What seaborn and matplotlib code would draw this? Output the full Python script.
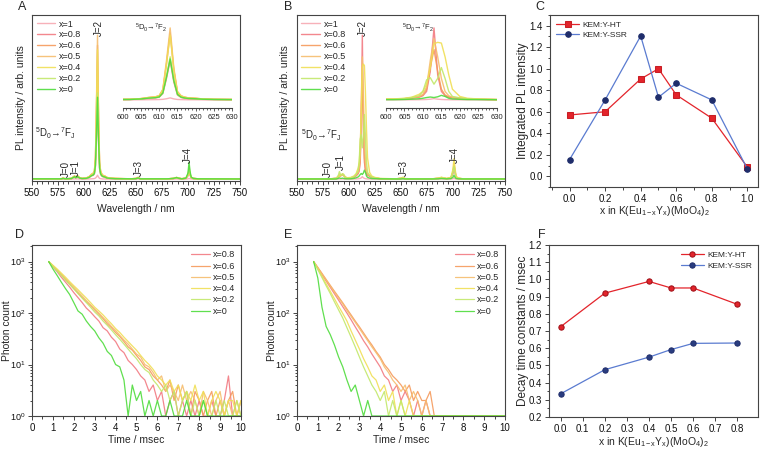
import seaborn as sns
import matplotlib.pyplot as plt
from matplotlib.ticker import MultipleLocator, LogLocator, NullFormatter

# ---------------- data ----------------
labels7 = ['x=1', 'x=0.8', 'x=0.6', 'x=0.5', 'x=0.4', 'x=0.2', 'x=0']
colors7 = ['#f7a9b2', '#f27a82', '#f59a5c', '#f6bd6e', '#f0df55', '#c2e86a', '#4fdc3c']

# emission spectra, normalised (wavelength in nm)
wl = [550, 578, 580, 582, 588, 590, 591, 592, 593, 594, 595, 596, 598, 602, 605, 607,
      609, 610, 611, 612, 613, 614, 615, 616, 617, 618, 620, 622, 625, 630, 645, 650,
      652, 654, 680, 686, 689, 691, 694, 698, 700, 701, 702, 703, 705, 710, 750]

# A: KEM:Y-HT
A_x1 = [0.003, 0.003, 0.003, 0.003, 0.003, 0.004, 0.005, 0.004, 0.004, 0.005,
        0.004, 0.003, 0.003, 0.003, 0.004, 0.005, 0.006, 0.007, 0.01, 0.018,
        0.03, 0.016, 0.008, 0.006, 0.005, 0.004, 0.004, 0.003, 0.003, 0.003,
        0.003, 0.003, 0.004, 0.003, 0.003, 0.003, 0.004, 0.003, 0.003, 0.003,
        0.005, 0.008, 0.005, 0.004, 0.003, 0.003, 0.003]
A_x08 = [0.005, 0.005, 0.008, 0.005, 0.007, 0.015, 0.02, 0.012, 0.015, 0.02,
         0.014, 0.01, 0.007, 0.008, 0.015, 0.025, 0.03, 0.04, 0.09, 0.3,
         0.55, 0.25, 0.07, 0.035, 0.025, 0.02, 0.016, 0.01, 0.008, 0.006,
         0.005, 0.006, 0.012, 0.005, 0.005, 0.007, 0.012, 0.008, 0.005, 0.008,
         0.025, 0.06, 0.03, 0.012, 0.007, 0.005, 0.004]
A_x06 = [0.005, 0.005, 0.01, 0.005, 0.008, 0.02, 0.025, 0.015, 0.02, 0.025,
         0.018, 0.012, 0.008, 0.01, 0.02, 0.035, 0.045, 0.06, 0.14, 0.5,
         0.93, 0.42, 0.11, 0.055, 0.04, 0.03, 0.024, 0.015, 0.01, 0.008,
         0.005, 0.008, 0.015, 0.006, 0.005, 0.008, 0.014, 0.01, 0.006, 0.01,
         0.03, 0.065, 0.035, 0.015, 0.008, 0.005, 0.004]
A_x05 = [0.005, 0.005, 0.01, 0.005, 0.008, 0.02, 0.025, 0.015, 0.02, 0.025,
         0.018, 0.012, 0.008, 0.01, 0.02, 0.035, 0.045, 0.06, 0.15, 0.55,
         1.0, 0.45, 0.12, 0.06, 0.04, 0.03, 0.025, 0.015, 0.01, 0.008,
         0.005, 0.008, 0.015, 0.006, 0.005, 0.008, 0.015, 0.01, 0.006, 0.01,
         0.03, 0.07, 0.04, 0.015, 0.008, 0.005, 0.004]
A_x04 = [0.005, 0.005, 0.01, 0.005, 0.008, 0.02, 0.024, 0.015, 0.02, 0.024,
         0.017, 0.012, 0.008, 0.01, 0.02, 0.033, 0.043, 0.058, 0.14, 0.5,
         0.9, 0.41, 0.11, 0.055, 0.038, 0.028, 0.023, 0.014, 0.01, 0.008,
         0.005, 0.008, 0.014, 0.006, 0.005, 0.008, 0.014, 0.01, 0.006, 0.01,
         0.03, 0.068, 0.038, 0.014, 0.008, 0.005, 0.004]
A_x02 = [0.005, 0.005, 0.008, 0.005, 0.007, 0.016, 0.02, 0.012, 0.016, 0.02,
         0.014, 0.01, 0.007, 0.008, 0.016, 0.028, 0.035, 0.045, 0.1, 0.33,
         0.6, 0.28, 0.08, 0.04, 0.028, 0.022, 0.018, 0.011, 0.008, 0.006,
         0.005, 0.006, 0.012, 0.005, 0.005, 0.007, 0.012, 0.008, 0.005, 0.009,
         0.035, 0.09, 0.045, 0.015, 0.007, 0.005, 0.004]
A_x0 = [0.005, 0.005, 0.008, 0.005, 0.007, 0.016, 0.02, 0.012, 0.016, 0.02,
        0.014, 0.01, 0.007, 0.008, 0.015, 0.026, 0.033, 0.043, 0.1, 0.32,
        0.57, 0.27, 0.08, 0.04, 0.028, 0.022, 0.018, 0.011, 0.008, 0.006,
        0.005, 0.006, 0.011, 0.005, 0.005, 0.008, 0.014, 0.009, 0.005, 0.01,
        0.045, 0.12, 0.055, 0.018, 0.008, 0.005, 0.004]

# B: KEM:Y-SSR
B_x1 = [0.003, 0.003, 0.003, 0.003, 0.003, 0.004, 0.004, 0.004, 0.004, 0.004,
        0.004, 0.003, 0.003, 0.003, 0.004, 0.004, 0.005, 0.006, 0.008, 0.012,
        0.02, 0.012, 0.008, 0.006, 0.005, 0.004, 0.004, 0.003, 0.003, 0.003,
        0.003, 0.003, 0.004, 0.003, 0.003, 0.003, 0.004, 0.003, 0.003, 0.003,
        0.005, 0.008, 0.005, 0.004, 0.003, 0.003, 0.003]
B_x08 = [0.005, 0.005, 0.006, 0.005, 0.008, 0.02, 0.03, 0.025, 0.03, 0.035,
         0.03, 0.02, 0.01, 0.01, 0.015, 0.025, 0.04, 0.06, 0.12, 0.4,
         1.0, 0.35, 0.12, 0.06, 0.04, 0.03, 0.022, 0.015, 0.01, 0.006,
         0.005, 0.008, 0.012, 0.006, 0.005, 0.008, 0.012, 0.01, 0.006, 0.01,
         0.04, 0.09, 0.05, 0.015, 0.008, 0.005, 0.004]
B_x06 = [0.005, 0.005, 0.006, 0.005, 0.008, 0.02, 0.03, 0.025, 0.03, 0.035,
         0.03, 0.02, 0.01, 0.012, 0.018, 0.03, 0.045, 0.07, 0.15, 0.45,
         0.7, 0.4, 0.15, 0.07, 0.045, 0.035, 0.025, 0.016, 0.01, 0.006,
         0.005, 0.008, 0.014, 0.006, 0.005, 0.008, 0.014, 0.01, 0.006, 0.012,
         0.05, 0.11, 0.06, 0.018, 0.008, 0.005, 0.004]
B_x05 = [0.005, 0.005, 0.006, 0.005, 0.008, 0.02, 0.03, 0.025, 0.03, 0.035,
         0.03, 0.02, 0.01, 0.012, 0.02, 0.035, 0.05, 0.08, 0.18, 0.55,
         0.85, 0.6, 0.3, 0.12, 0.06, 0.04, 0.03, 0.018, 0.011, 0.006,
         0.005, 0.008, 0.014, 0.006, 0.005, 0.008, 0.014, 0.01, 0.006, 0.012,
         0.05, 0.1, 0.06, 0.018, 0.008, 0.005, 0.004]
B_x04 = [0.005, 0.005, 0.006, 0.005, 0.008, 0.02, 0.035, 0.03, 0.035, 0.04,
         0.035, 0.025, 0.012, 0.015, 0.025, 0.04, 0.08, 0.12, 0.22, 0.45,
         0.78, 0.8, 0.79, 0.6, 0.35, 0.15, 0.05, 0.025, 0.015, 0.008,
         0.005, 0.008, 0.016, 0.006, 0.005, 0.01, 0.016, 0.012, 0.008, 0.015,
         0.07, 0.145, 0.08, 0.025, 0.01, 0.005, 0.004]
B_x02 = [0.005, 0.005, 0.006, 0.005, 0.008, 0.03, 0.055, 0.035, 0.03, 0.04,
         0.035, 0.02, 0.01, 0.012, 0.02, 0.035, 0.06, 0.12, 0.28, 0.31,
         0.22, 0.3, 0.45, 0.3, 0.12, 0.05, 0.03, 0.018, 0.012, 0.006,
         0.005, 0.007, 0.012, 0.006, 0.005, 0.008, 0.012, 0.01, 0.006, 0.012,
         0.05, 0.09, 0.05, 0.015, 0.008, 0.005, 0.004]
B_x0 = [0.004, 0.004, 0.004, 0.004, 0.004, 0.008, 0.012, 0.008, 0.008, 0.01,
        0.008, 0.006, 0.005, 0.005, 0.008, 0.012, 0.018, 0.025, 0.035, 0.042,
        0.035, 0.045, 0.065, 0.05, 0.025, 0.015, 0.01, 0.007, 0.006, 0.005,
        0.004, 0.004, 0.005, 0.004, 0.004, 0.005, 0.007, 0.006, 0.005, 0.006,
        0.015, 0.03, 0.015, 0.007, 0.005, 0.004, 0.004]

# integrated intensity (C) and decay constants (F)
x_C = [0.0, 0.2, 0.4, 0.5, 0.6, 0.8, 1.0]
C_HT = [0.57, 0.60, 0.905, 1.0, 0.757, 0.54, 0.085]
C_SSR = [0.155, 0.71, 1.305, 0.735, 0.865, 0.71, 0.068]
x_F = [0.0, 0.2, 0.4, 0.5, 0.6, 0.8]
F_HT = [0.725, 0.92, 0.988, 0.95, 0.95, 0.855]
F_SSR = [0.335, 0.475, 0.548, 0.592, 0.628, 0.63]

# decay curves (photon counts vs time in msec)
labels6 = labels7[1:]
colors6 = colors7[1:]
t_ms = [0.8, 1.0, 1.2, 1.4, 1.6, 1.8, 2.0, 2.2, 2.4, 2.6, 2.8, 3.0, 3.2, 3.4, 3.6, 3.8,
        4.0, 4.2, 4.4, 4.6, 4.8, 5.0, 5.2, 5.4, 5.6, 5.8, 6.0, 6.2, 6.4, 6.6, 6.8, 7.0,
        7.2, 7.4, 7.6, 7.8, 8.0, 8.2, 8.4, 8.6, 8.8, 9.0, 9.2, 9.4, 9.6, 9.8, 10.0]
D_x08 = [1000, 790, 640, 500, 400, 320, 250, 200, 160, 125, 105, 85, 70, 52, 45, 34,
         28, 20, 17, 12, 10, 8, 6, 5, 3, 4, 2, 3, 1, 2, 3, 1, 2, 1, 2, 1, 2, 1, 1, 2,
         1, 1, 2, 6, 1, 1, 1]
D_x06 = [1000, 820, 680, 560, 450, 370, 300, 245, 200, 165, 140, 115, 95, 78, 62, 52,
         42, 35, 28, 22, 19, 15, 12, 9, 8, 6, 5, 4, 3, 5, 2, 4, 2, 3, 1, 3, 2, 1, 2, 3,
         1, 2, 1, 2, 3, 1, 2]
D_x05 = [1000, 830, 690, 570, 470, 385, 320, 260, 215, 175, 145, 120, 100, 82, 68, 55,
         46, 37, 30, 25, 20, 16, 14, 10, 9, 7, 5, 6, 3, 4, 3, 2, 4, 2, 3, 2, 1, 3, 2, 1,
         2, 3, 1, 2, 1, 2, 1]
D_x04 = [1000, 850, 720, 600, 500, 410, 340, 285, 235, 195, 160, 130, 110, 92, 75, 62,
         50, 42, 34, 28, 23, 19, 15, 12, 10, 8, 6, 5, 4, 5, 3, 4, 2, 3, 2, 4, 2, 3, 1, 2,
         3, 2, 1, 2, 2, 1, 2]
D_x02 = [1000, 800, 660, 540, 440, 360, 295, 240, 195, 160, 130, 105, 88, 70, 58, 47,
         38, 31, 25, 20, 16, 13, 10, 8, 7, 5, 4, 3, 4, 2, 3, 1, 2, 3, 1, 2, 1, 2, 1, 1,
         2, 1, 2, 1, 1, 2, 1]
D_x0 = [1000, 720, 540, 400, 300, 230, 160, 110, 95, 70, 55, 45, 33, 26, 18, 15,
        10, 9, 5, 1, 4, 2, 3, 1, 2, 1, 2, 1, 1, 2, 1, 1, 1, 2, 1, 1, 1, 2, 1, 1,
        1, 1, 1, 1, 1, 1, 1]
E_x08 = [1000, 750, 560, 420, 316, 237, 178, 133, 100, 74, 54, 40, 29, 22, 16, 12,
         9, 6, 5, 3, 4, 2, 3, 2, 1, 2, 1, 2, 1, 1, 1, 1, 1, 1, 1, 1, 1, 1, 1, 1,
         1, 1, 1, 1, 1, 1, 1]
E_x06 = [1000, 770, 590, 450, 345, 265, 205, 158, 120, 92, 70, 54, 41, 31, 24, 18,
         14, 10, 8, 6, 5, 4, 3, 4, 2, 3, 2, 2, 3, 1, 1, 1, 1, 1, 1, 1, 1, 1, 1, 1,
         1, 1, 1, 1, 1, 1, 1]
E_x05 = [1000, 760, 575, 440, 335, 255, 195, 150, 112, 86, 66, 50, 38, 29, 22, 17,
         13, 9, 7, 5, 4, 3, 4, 2, 3, 2, 1, 2, 1, 1, 1, 1, 1, 1, 1, 1, 1, 1, 1, 1,
         1, 1, 1, 1, 1, 1, 1]
E_x04 = [1000, 720, 520, 370, 265, 190, 135, 98, 70, 45, 30, 20, 13, 9, 6, 5,
         3, 4, 2, 3, 1, 2, 1, 2, 1, 1, 1, 1, 1, 1, 1, 1, 1, 1, 1, 1, 1, 1, 1, 1,
         1, 1, 1, 1, 1, 1, 1]
E_x02 = [1000, 700, 490, 340, 240, 165, 115, 80, 52, 34, 22, 14, 9, 6, 4, 3,
         2, 3, 1, 2, 1, 2, 1, 1, 1, 1, 1, 1, 1, 1, 1, 1, 1, 1, 1, 1, 1, 1, 1, 1,
         1, 1, 1, 1, 1, 1, 1]
E_x0 = [1000, 480, 130, 55, 38, 24, 14, 9, 5, 3, 4, 2, 1, 2, 1, 1,
        1, 1, 1, 1, 1, 1, 1, 1, 1, 1, 1, 1, 1, 1, 1, 1, 1, 1, 1, 1, 1, 1, 1, 1,
        1, 1, 1, 1, 1, 1, 1]

# ---------------- style ----------------
sns.set_theme(style='ticks')
plt.rcParams['font.family'] = ['Liberation Sans', 'DejaVu Sans']
plt.rcParams['mathtext.fontset'] = 'custom'
plt.rcParams['mathtext.rm'] = 'Liberation Sans'
plt.rcParams['mathtext.it'] = 'Liberation Sans:italic'
plt.rcParams['mathtext.bf'] = 'Liberation Sans:bold'

fig = plt.figure(figsize=(7.6, 4.49), dpi=100)
axA = fig.add_axes([0.0421, 0.5969, 0.2737, 0.3697])
axB = fig.add_axes([0.3904, 0.5969, 0.2741, 0.3697])
axC = fig.add_axes([0.7237, 0.5835, 0.2737, 0.3831])
axD = fig.add_axes([0.0421, 0.0735, 0.2750, 0.3808])
axE = fig.add_axes([0.3908, 0.0735, 0.2737, 0.3808])
axF = fig.add_axes([0.7224, 0.0713, 0.2750, 0.3831])


def frame(ax):
    for s in ax.spines.values():
        s.set_linewidth(0.8)
        s.set_color('#444444')
    ax.tick_params(which='both', direction='out', width=0.7, labelsize=7,
                   pad=2, color='#444444', labelcolor='#111111')
    ax.tick_params(which='major', length=3)
    ax.tick_params(which='minor', length=1.8)


def spectrum_panel(ax, series, inset_rect, jlabels, fj_xy, ins_lab_x):
    for lab, col in zip(labels7, colors7):
        sns.lineplot(x=wl, y=series[lab], color=col, lw=1.0, alpha=0.9, ax=ax, label=lab)
    frame(ax)
    ax.set_xlim(550, 750)
    ax.set_ylim(-0.01, 1.14)
    ax.set_yticks([])
    ax.xaxis.set_major_locator(MultipleLocator(25))
    ax.xaxis.set_minor_locator(MultipleLocator(5))
    ax.set_xlabel('Wavelength / nm', fontsize=7.5)
    ax.set_ylabel('PL intensity / arb. units', fontsize=7.5)
    ax.xaxis.set_label_coords(0.5, -0.14)
    ax.yaxis.set_label_coords(-0.03, 0.5)
    ax.legend(loc='upper left', frameon=False, fontsize=6.5, handlelength=2.1,
              handletextpad=0.4, labelspacing=0.22, borderaxespad=0.2, borderpad=0.3)
    for txt, xx, yy in jlabels:
        ax.text(xx, yy, txt, rotation=90, ha='center', va='center', fontsize=7)
    ax.text(fj_xy[0], fj_xy[1], '$^5$D$_0$\u2192$^7$F$_\\mathregular{J}$',
            fontsize=7, ha='left', va='center')
    # inset on the J=2 band
    ins = fig.add_axes(inset_rect)
    for lab, col in zip(labels7, colors7):
        sns.lineplot(x=wl, y=series[lab], color=col, lw=1.0, alpha=0.9, ax=ins, legend=False)
    ins.set_xlim(600, 630)
    ins.set_ylim(-0.11, 1.11)
    ins.patch.set_alpha(0)
    for s in ['left', 'right', 'top']:
        ins.spines[s].set_visible(False)
    ins.spines['bottom'].set_linewidth(0.8)
    ins.spines['bottom'].set_color('#444444')
    ins.set_yticks([])
    ins.xaxis.set_major_locator(MultipleLocator(5))
    ins.xaxis.set_minor_locator(MultipleLocator(1))
    ins.tick_params(which='both', direction='out', width=0.6, labelsize=5.5, pad=1.5,
                    color='#444444')
    ins.tick_params(which='major', length=2.5)
    ins.tick_params(which='minor', length=1.5)
    ins.set_xlabel('')
    ins.set_ylabel('')
    ins.text(ins_lab_x, 1.0, '$^5$D$_0$\u2192$^7$F$_2$', fontsize=5.5, ha='left', va='center')


A_series = dict(zip(labels7, [A_x1, A_x08, A_x06, A_x05, A_x04, A_x02, A_x0]))
B_series = dict(zip(labels7, [B_x1, B_x08, B_x06, B_x05, B_x04, B_x02, B_x0]))

spectrum_panel(axA, A_series, [0.1614, 0.7595, 0.1442, 0.196],
               [('J=0', 582.5, 0.07), ('J=1', 592.5, 0.08), ('J=2', 614.5, 1.05),
                ('J=3', 652.3, 0.08), ('J=4', 699.7, 0.17)], (553, 0.32), 603.3)
spectrum_panel(axB, B_series, [0.5079, 0.7595, 0.1457, 0.196],
               [('J=0', 580.2, 0.07), ('J=1', 592.3, 0.12), ('J=2', 613.8, 1.05),
                ('J=3', 652.9, 0.08), ('J=4', 702.0, 0.17)], (554, 0.31), 604.3)

# C: integrated intensity
sns.lineplot(x=x_C, y=C_HT, color='#e3242b', lw=0.9, marker='s', markersize=4,
             markeredgecolor='#c81e24', ax=axC, label='KEM:Y-HT')
sns.lineplot(x=x_C, y=C_SSR, color='#5a7bd0', lw=0.9, marker='o', markersize=4,
             markerfacecolor='#1f2d6b', markeredgecolor='#1f2d6b', ax=axC, label='KEM:Y-SSR')
frame(axC)
axC.set_xlim(-0.11, 1.06)
axC.set_ylim(-0.1, 1.5)
axC.xaxis.set_minor_locator(MultipleLocator(0.1))
axC.yaxis.set_minor_locator(MultipleLocator(0.1))
axC.set_xticks([0.0, 0.2, 0.4, 0.6, 0.8, 1.0])
axC.set_yticks([0.0, 0.2, 0.4, 0.6, 0.8, 1.0, 1.2, 1.4])
axC.set_xlabel('x in K(Eu$_\\mathregular{1-x}$Y$_\\mathregular{x}$)(MoO$_\\mathregular{4}$)$_\\mathregular{2}$',
               fontsize=7.5)
axC.set_ylabel('Integrated PL intensity', fontsize=8.5)
axC.xaxis.set_label_coords(0.5, -0.10)
axC.yaxis.set_label_coords(-0.10, 0.5)
axC.legend(loc='upper left', frameon=False, fontsize=6, handlelength=2.8,
           handletextpad=0.4, labelspacing=0.25, borderaxespad=0.3, borderpad=0.4)


def decay_panel(ax, curves):
    for lab, col, y in zip(labels6, colors6, curves):
        sns.lineplot(x=t_ms, y=y, color=col, lw=0.9, alpha=0.9, ax=ax, label=lab)
    frame(ax)
    ax.set_yscale('log')
    ax.set_xlim(0, 10)
    ax.set_ylim(1, 2100)
    ax.xaxis.set_major_locator(MultipleLocator(1))
    ax.xaxis.set_minor_locator(MultipleLocator(0.5))
    ax.yaxis.set_major_locator(LogLocator(base=10))
    ax.yaxis.set_minor_locator(LogLocator(base=10, subs=range(2, 10)))
    ax.yaxis.set_minor_formatter(NullFormatter())
    ax.tick_params(axis='y', labelsize=6.5, pad=1.5)
    ax.set_xlabel('Time / msec', fontsize=7.5)
    ax.set_ylabel('Photon count', fontsize=7.5)
    ax.xaxis.set_label_coords(0.5, -0.11)
    ax.yaxis.set_label_coords(-0.098, 0.5)
    ax.legend(loc='upper right', frameon=False, fontsize=6.5, handlelength=2.1,
              handletextpad=0.4, labelspacing=0.25, borderaxespad=0.2, borderpad=0.4)


decay_panel(axD, [D_x08, D_x06, D_x05, D_x04, D_x02, D_x0])
decay_panel(axE, [E_x08, E_x06, E_x05, E_x04, E_x02, E_x0])

# F: decay time constants
sns.lineplot(x=x_F, y=F_HT, color='#e3242b', lw=0.9, marker='o', markersize=3.8,
             markerfacecolor='#e3242b', markeredgecolor='#a01018', ax=axF, label='KEM:Y-HT')
sns.lineplot(x=x_F, y=F_SSR, color='#5a7bd0', lw=0.9, marker='o', markersize=3.8,
             markerfacecolor='#2a3d80', markeredgecolor='#1f2d6b', ax=axF, label='KEM:Y-SSR')
frame(axF)
axF.set_xlim(-0.053, 0.894)
axF.set_ylim(0.2, 1.2)
axF.xaxis.set_major_locator(MultipleLocator(0.1))
axF.yaxis.set_major_locator(MultipleLocator(0.1))
axF.yaxis.set_minor_locator(MultipleLocator(0.05))
axF.set_xlabel('x in K(Eu$_\\mathregular{1-x}$Y$_\\mathregular{x}$)(MoO$_\\mathregular{4}$)$_\\mathregular{2}$',
               fontsize=7.5)
axF.set_ylabel('Decay time constants / msec', fontsize=8.5)
axF.xaxis.set_label_coords(0.5, -0.105)
axF.yaxis.set_label_coords(-0.096, 0.5)
axF.legend(loc='upper right', frameon=False, fontsize=6, handlelength=2.8,
           handletextpad=0.4, labelspacing=0.45, borderaxespad=0.3, borderpad=0.4)

# panel letters
for letter, px, py in [('A', 21.7, 6.7), ('B', 288, 6.7), ('C', 540, 6.7),
                       ('D', 20, 235), ('E', 288, 235), ('F', 542, 235)]:
    fig.text(px / 760, 1 - py / 449, letter, fontsize=9, ha='center', va='center')

fig.savefig('out.png', dpi=100)
